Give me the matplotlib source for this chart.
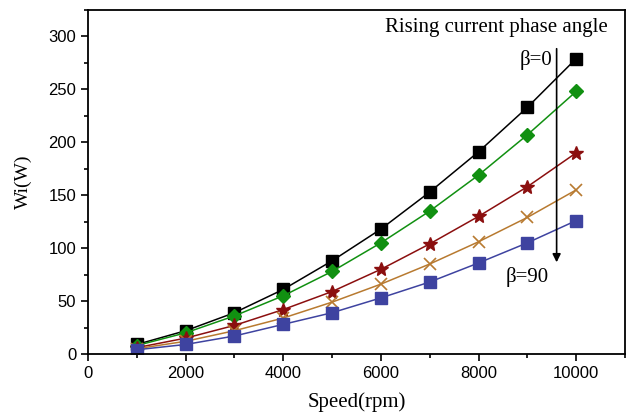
import numpy as np
import matplotlib
matplotlib.use('Agg')
import matplotlib.pyplot as plt
from matplotlib.ticker import MultipleLocator

# THE DATA
speed = [1000, 2000, 3000, 4000, 5000, 6000, 7000, 8000, 9000, 10000]
beta_0 = [9, 22, 39, 61, 88, 118, 153, 191, 233, 279]
beta_1 = [8, 20, 36, 55, 78, 105, 135, 169, 207, 248]
beta_2 = [6, 15, 27, 42, 59, 80, 104, 130, 158, 190]
beta_3 = [5, 12, 22, 34, 49, 66, 85, 106, 129, 155]
beta_90 = [4, 9, 17, 28, 39, 53, 68, 86, 105, 126]

serif = {'family': 'Liberation Serif'}

fig = plt.figure(figsize=(6.3, 4.15), dpi=100, facecolor='w')
ax = fig.add_axes([0.1397, 0.147, 0.8523, 0.829])

ax.plot(speed, beta_0, color='black', marker='s', markersize=8, linewidth=1.1)
ax.plot(speed, beta_1, color='#119011', marker='D', markersize=7, linewidth=1.1)
ax.plot(speed, beta_2, color='#8b0f0f', marker='*', markersize=10, linewidth=1.1)
ax.plot(speed, beta_3, color='#b87a30', marker='x', markersize=8, markeredgewidth=1.2, linewidth=1.1)
ax.plot(speed, beta_90, color='#3e43a0', marker='s', markersize=8, linewidth=1.1)

# arrow showing phase angle increase
ax.annotate('', xy=(9600, 84), xytext=(9600, 291),
            arrowprops=dict(arrowstyle='-|>', color='k', lw=1.2, mutation_scale=12))
ax.text(10650, 308, 'Rising current phase angle', ha='right', va='center', fontsize=15, **serif)
ax.text(9520, 278, 'β=0', ha='right', va='center', fontsize=15, **serif)
ax.text(8550, 73, 'β=90', ha='left', va='center', fontsize=15, **serif)

ax.set_xlim(0, 11000)
ax.set_ylim(0, 325)
ax.xaxis.set_major_locator(MultipleLocator(2000))
ax.xaxis.set_minor_locator(MultipleLocator(1000))
ax.yaxis.set_major_locator(MultipleLocator(50))
ax.yaxis.set_minor_locator(MultipleLocator(25))
ax.tick_params(which='both', direction='out', width=1.2)
ax.tick_params(which='major', length=5, labelsize=12)
ax.tick_params(which='minor', length=3)
for lab in ax.get_xticklabels() + ax.get_yticklabels():
    lab.set_family('Liberation Sans')

for s in ax.spines.values():
    s.set_linewidth(1.3)

ax.set_xlabel('Speed(rpm)', fontsize=15, labelpad=8, **serif)
ax.set_ylabel('Wi(W)', fontsize=14, labelpad=12, **serif)

plt.savefig('out.png', dpi=100)
